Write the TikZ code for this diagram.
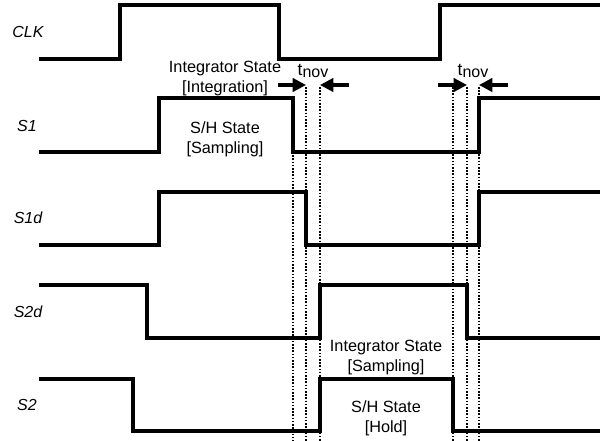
\documentclass[tikz,border=0pt]{standalone}
\usepackage{fontspec}
\setmainfont{Liberation Sans}
\usepackage{tikz}
\usetikzlibrary{arrows.meta, positioning}
\tikzset{
    sig/.style={line width=2.3pt, line join=miter, draw=black},
    guide/.style={line width=0.9pt, dash pattern=on 1.2pt off 1.2pt, draw=black},
    arr/.style={-{Triangle[length=10pt, width=10pt]}, line width=2.3pt, draw=black},
    lbl/.style={font=\fontsize{12}{14}\selectfont\itshape, text=black},
    note/.style={font=\fontsize{12.2}{15}\selectfont, align=center, text=black, inner sep=0pt},
}
\begin{document}
\begin{tikzpicture}[x=0.75pt, y=-0.75pt]
\useasboundingbox (0,0) rectangle (602,441);

% signal names
\node[lbl] (clk) at (28,32) {CLK};
\node[lbl] (s1) at (27,126) {S1};
\node[lbl] (s1d) at (28,218) {S1d};
\node[lbl] (s2d) at (28,312) {S2d};
\node[lbl] (s2) at (27,405) {S2};

% edge positions
\coordinate (e1) at (293,87);
\coordinate (e2) at (306,87);
\coordinate (e3) at (320,87);
\coordinate (e4) at (453,87);
\coordinate (e5) at (467,87);
\coordinate (e6) at (479,87);

% guide lines
\draw[guide] (293,152) -- (293,441);
\foreach \e in {e2,e3,e4,e5,e6}
    \draw[guide] (\e) -- (\e |- 0,441);

% CLK
\draw[sig] (39,59) -- (120,59) -- (120,5) -- (279,5) -- (279,59) -- (440,59) -- (440,5) -- (600,5);
% S1
\draw[sig] (39,152) -- (159,152) -- (159,98) -- (293,98) -- (293,152) -- (479,152) -- (479,98) -- (600,98);
% S1d
\draw[sig] (39,245) -- (159,245) -- (159,192) -- (306,192) -- (306,245) -- (479,245) -- (479,192) -- (600,192);
% S2d
\draw[sig] (39,285) -- (147,285) -- (147,338) -- (320,338) -- (320,285) -- (467,285) -- (467,338) -- (600,338);
% S2
\draw[sig] (39,379) -- (133,379) -- (133,431) -- (320,431) -- (320,379) -- (453,379) -- (453,431) -- (600,431);

% non-overlap arrows
\draw[arr] (278,85) -- (e2 |- 0,85);
\draw[arr] (349,85) -- (e3 |- 0,85);
\draw[arr] (438,85) -- (e5 |- 0,85);
\draw[arr] (508,85) -- (e6 |- 0,85);
\node[note] (tnov1) at (313,71) {\fontsize{13}{15}\selectfont t\raisebox{-1.5pt}{\fontsize{12}{15}\selectfont nov}};
\node[note] (tnov2) at (473,71) {\fontsize{13}{15}\selectfont t\raisebox{-1.5pt}{\fontsize{12}{15}\selectfont nov}};

% states
\node[note] (intg1) at (225,79) {Integrator State\\{[}Integration{]}};
\node[note] (sh1) at (225,139) {S/H State\\{[}Sampling{]}};
\node[note] (intg2) at (386,358) {Integrator State\\{[}Sampling{]}};
\node[note] (sh2) at (386,418) {S/H State\\{[}Hold{]}};

\end{tikzpicture}
\end{document}
